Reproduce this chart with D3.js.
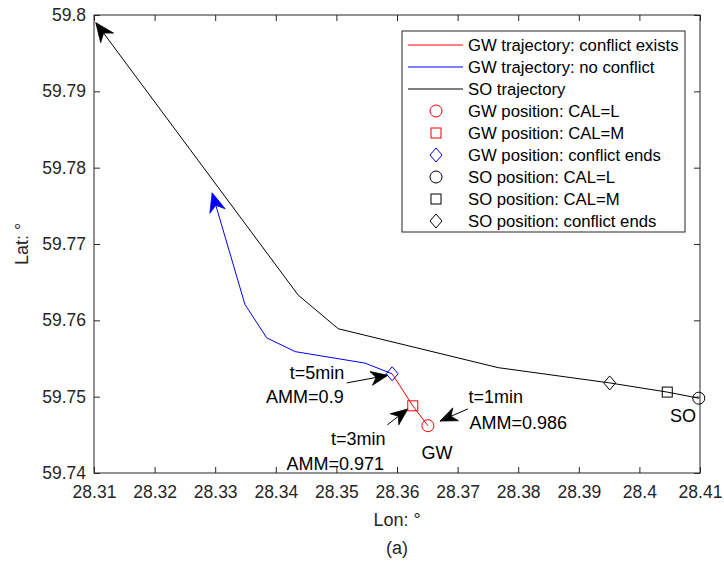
<!DOCTYPE html>
<html><head><meta charset="utf-8">
<script src="https://cdn.jsdelivr.net/npm/d3@7"></script>
<style>body{margin:0;background:#fff}svg{display:block;font-family:"Liberation Sans",Arial,sans-serif}</style>
</head><body><svg id="c" width="724" height="562"></svg>
<script>
// ---- data ----
const xTicks = [28.31,28.32,28.33,28.34,28.35,28.36,28.37,28.38,28.39,28.4,28.41];
const yTicks = [59.74,59.75,59.76,59.77,59.78,59.79,59.8];
// SO trajectory (lon, lat), start -> end (arrow)
const soLon = [28.4098,28.4046,28.3951,28.3767,28.3503,28.3437,28.3103];
const soLat = [59.7498,59.7506,59.7518,59.7538,59.7589,59.7633,59.7990];
// GW trajectory with conflict (circle -> square -> diamond)
const gwConfLon = [28.3651,28.3626,28.3592];
const gwConfLat = [59.7462,59.7488,59.7530];
// GW trajectory without conflict (diamond -> arrow)
const gwFreeLon = [28.3592,28.3547,28.3432,28.3385,28.3349,28.3295];
const gwFreeLat = [59.7530,59.7544,59.7559,59.7577,59.7621,59.7767];
// positions: [CAL=L, CAL=M, conflict ends]
const gwPosLon = [28.3651,28.3626,28.3592];
const gwPosLat = [59.7462,59.7488,59.7530];
const soPosLon = [28.4098,28.4046,28.3951];
const soPosLat = [59.7498,59.7506,59.7518];
// text-arrow annotations: tail -> tip
const annTailLon = [28.3517,28.3584,28.3717];
const annTailLat = [59.7518,59.7463,59.7484];
const annTipLon  = [28.3585,28.3618,28.3671];
const annTipLat  = [59.7528,59.7484,59.7468];
const annText = ["t=5min","AMM=0.9","t=3min","AMM=0.971","t=1min","AMM=0.986","GW","SO"];
const annTextLon = [28.3468,28.3448,28.3536,28.3498,28.3763,28.3800,28.3666,28.4072];
const annTextLat = [59.7531,59.7500,59.7445,59.7412,59.7500,59.7466,59.7426,59.7475];
const legendLabels = ["GW trajectory: conflict exists","GW trajectory: no conflict","SO trajectory",
  "GW position: CAL=L","GW position: CAL=M","GW position: conflict ends",
  "SO position: CAL=L","SO position: CAL=M","SO position: conflict ends"];

// ---- layout ----
const L=94,R=700,T=15,B=473;
const svg=d3.select("#c");
const x=d3.scaleLinear().domain([28.31,28.41]).range([L,R]);
const y=d3.scaleLinear().domain([59.74,59.8]).range([B,T]);
const axisCol="#262626";

// axes
const fmt=d=>String(+d.toFixed(2));
const gx=svg.append("g").attr("transform",`translate(0,${B})`)
  .call(d3.axisBottom(x).tickValues(xTicks).tickFormat(fmt).tickSizeInner(-6).tickSizeOuter(0).tickPadding(13));
const gxt=svg.append("g").attr("transform",`translate(0,${T})`)
  .call(d3.axisTop(x).tickValues(xTicks).tickFormat("").tickSizeInner(-6).tickSizeOuter(0));
const gy=svg.append("g").attr("transform",`translate(${L},0)`)
  .call(d3.axisLeft(y).tickValues(yTicks).tickFormat(fmt).tickSizeInner(-6).tickSizeOuter(0).tickPadding(8));
const gyr=svg.append("g").attr("transform",`translate(${R},0)`)
  .call(d3.axisRight(y).tickValues(yTicks).tickFormat("").tickSizeInner(-6).tickSizeOuter(0));
[gx,gxt,gy,gyr].forEach(g=>{
  g.select(".domain").remove();
  g.selectAll("line").attr("stroke",axisCol);
  g.selectAll("text").attr("fill",axisCol).style("font-size","17.5px").style("font-family",'"Liberation Sans",Arial,sans-serif');
});
svg.append("rect").attr("x",L).attr("y",T).attr("width",R-L).attr("height",B-T)
  .attr("fill","none").attr("stroke",axisCol).attr("stroke-width",1);

// axis labels
svg.append("text").attr("x",(L+R)/2).attr("y",526).attr("text-anchor","middle")
  .attr("fill",axisCol).style("font-size","18px").text("Lon: °");
svg.append("text").attr("x",(L+R)/2).attr("y",554).attr("text-anchor","middle")
  .attr("fill",axisCol).style("font-size","18px").text("(a)");
svg.append("text").attr("transform",`translate(28,${(T+B)/2}) rotate(-90)`).attr("text-anchor","middle")
  .attr("fill",axisCol).style("font-size","18px").text("Lat: °");

// lines
const line=d3.line().x(d=>x(d[0])).y(d=>y(d[1]));
const zip=(a,b)=>a.map((v,i)=>[v,b[i]]);
svg.append("path").datum(zip(soLon,soLat)).attr("d",line).attr("fill","none").attr("stroke","#000").attr("stroke-width",1);
svg.append("path").datum(zip(gwFreeLon,gwFreeLat)).attr("d",line).attr("fill","none").attr("stroke","#0000ff").attr("stroke-width",1);
svg.append("path").datum(zip(gwConfLon,gwConfLat)).attr("d",line).attr("fill","none").attr("stroke","#ff0000").attr("stroke-width",1);

// arrowheads
function head(x0,y0,x1,y1,color,len,hw,notch){
  const dx=x1-x0,dy=y1-y0,l=Math.hypot(dx,dy),ux=dx/l,uy=dy/l,px=-uy,py=ux;
  const p=[[x1,y1],[x1-ux*len+px*hw,y1-uy*len+py*hw],[x1-ux*notch,y1-uy*notch],[x1-ux*len-px*hw,y1-uy*len-py*hw]];
  svg.append("path").attr("d","M"+p.map(q=>q.join(",")).join("L")+"Z").attr("fill",color).attr("stroke",color).attr("stroke-width",0.8);
}
{
  const n=soLon.length;
  head(x(soLon[n-2]),y(soLat[n-2]),x(soLon[n-1]),y(soLat[n-1]),"#000",19,8,13);
  const m=gwFreeLon.length;
  head(x(gwFreeLon[m-2]),y(gwFreeLat[m-2]),x(gwFreeLon[m-1]),y(gwFreeLat[m-1]),"#0000ff",19,8,13);
}
// annotation arrows
annTailLon.forEach((v,i)=>{
  const x0=x(v),y0=y(annTailLat[i]),x1=x(annTipLon[i]),y1=y(annTipLat[i]);
  svg.append("line").attr("x1",x0).attr("y1",y0).attr("x2",x1).attr("y2",y1).attr("stroke","#000").attr("stroke-width",1);
  head(x0,y0,x1,y1,"#000",17,7,12);
});
annText.forEach((t,i)=>{
  svg.append("text").attr("x",x(annTextLon[i])).attr("y",y(annTextLat[i])).attr("text-anchor","middle")
    .attr("dominant-baseline","central").attr("fill","#000").style("font-size","18px").text(t);
});

// markers
function marker(g,type,cx,cy,color){
  if(type===0) g.append("circle").attr("cx",cx).attr("cy",cy).attr("r",6).attr("fill","none").attr("stroke",color);
  else if(type===1) g.append("rect").attr("x",cx-5).attr("y",cy-5).attr("width",10).attr("height",10).attr("fill","none").attr("stroke",color);
  else g.append("path").attr("d",`M${cx},${cy-7}L${cx+6},${cy}L${cx},${cy+7}L${cx-6},${cy}Z`).attr("fill","none").attr("stroke",color);
}
const mk=svg.append("g");
gwPosLon.forEach((v,i)=>marker(mk,i,x(v),y(gwPosLat[i]),i<2?"#ff0000":"#0000ff"));
soPosLon.forEach((v,i)=>marker(mk,i,x(v),y(soPosLat[i]),"#000"));

// legend
const lg=svg.append("g");
lg.append("rect").attr("x",402).attr("y",31).attr("width",283).attr("height",201).attr("fill","#fff").attr("stroke",axisCol);
const legCols=["#ff0000","#0000ff","#000","#ff0000","#ff0000","#0000ff","#000","#000","#000"];
legendLabels.forEach((t,i)=>{
  const cy=45+i*22;
  if(i<3) lg.append("line").attr("x1",408).attr("x2",463).attr("y1",cy).attr("y2",cy).attr("stroke",legCols[i]);
  else marker(lg,(i-3)%3,436,cy,legCols[i]);
  lg.append("text").attr("x",468).attr("y",cy).attr("dominant-baseline","central").attr("fill","#000")
    .style("font-size","16.7px").text(t);
});
</script></body></html>
